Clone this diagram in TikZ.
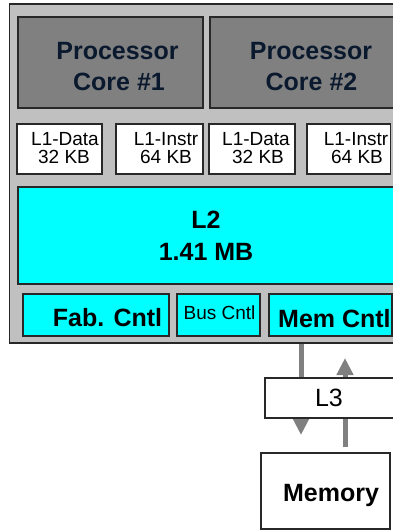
\documentclass[tikz,border=0pt]{standalone}
\usepackage{fontspec}
\setmainfont{Liberation Sans}
\usetikzlibrary{arrows.meta,fit}

\definecolor{chipgray}{RGB}{192,192,192}
\definecolor{coregray}{RGB}{128,128,128}
\definecolor{cachecyan}{RGB}{0,255,255}
\definecolor{edgedark}{RGB}{40,40,40}
\definecolor{coretext}{RGB}{10,25,45}
\definecolor{busgray}{RGB}{128,128,128}

\begin{document}
\begin{tikzpicture}[x=1pt,y=-1pt,
  blk/.style={draw=edgedark,line width=1.3pt,inner sep=0pt},
  chipbox/.style={blk,fill=chipgray},
  corebox/.style={blk,fill=coregray},
  l1box/.style={blk,fill=white},
  cyanbox/.style={blk,fill=cachecyan},
  txt/.style={inner sep=0pt,anchor=base},
  bigbold/.style={txt,font=\fontsize{25}{29}\selectfont\bfseries},
  smalltxt/.style={txt,font=\fontsize{19}{23}\selectfont},
  flow/.style={draw=busgray,line width=5pt,-{Triangle[length=17pt,width=16pt]}}
]
\useasboundingbox (0,0) rectangle (393,531);

% chip outline
\node[chipbox,fit={(9.5,4) (410,343)}] (chip) {};

% processor cores
\node[corebox,fit={(18,17) (203,108)}] (core1) {};
\node[corebox,fit={(210,17) (410,108)}] (core2) {};
\node[bigbold,text=coretext] (c1a) at (117.5,59.3) {Processor};
\node[bigbold,text=coretext] (c1b) at (119,90) {Core \#1};
\node[bigbold,text=coretext] (c2a) at (311,59.3) {Processor};
\node[bigbold,text=coretext] (c2b) at (311.5,90) {Core \#2};

% L1 caches
\node[l1box,fit={(17,124) (102,174)}] (l1d1) {};
\node[l1box,fit={(116,124) (203,174)}] (l1i1) {};
\node[l1box,fit={(209,124) (295,174)}] (l1d2) {};
\node[l1box,fit={(307,124) (390.5,174)}] (l1i2) {};
\node[smalltxt] (t1) at (65,145.5) {L1-Data};
\node[smalltxt] (t2) at (64,163.5) {32 KB};
\node[smalltxt] (t3) at (166,145.5) {L1-Instr};
\node[smalltxt] (t4) at (166,163.5) {64 KB};
\node[smalltxt] (t5) at (256,145.5) {L1-Data};
\node[smalltxt] (t6) at (258,163.5) {32 KB};
\node[smalltxt] (t7) at (356,145.5) {L1-Instr};
\node[smalltxt] (t8) at (357,163.5) {64 KB};

% L2 cache
\node[cyanbox,fit={(18,187) (410,284)}] (l2) {};
\node[bigbold] (l2a) at (206,228) {L2};
\node[bigbold] (l2b) at (206,260) {1.41 MB};

% controllers
\node[cyanbox,fit={(23,294) (169,336)}] (fab) {};
\node[cyanbox,fit={(177,294) (260,336)}] (bus) {};
\node[cyanbox,fit={(269,294) (392,336)}] (memc) {};
\node[bigbold] (fabt) at (107.5,326.7) {Fab. Cntl};
\node[smalltxt] (bust) at (219.5,319) {Bus Cntl};
\node[bigbold,anchor=base west] (memct) at (278,327) {Mem Cntl};

% memory traffic
\coordinate (dtip) at (301,435);
\coordinate (ubase) at (345,447);
\coordinate (utip) at (345,358);
\draw[flow] (301,0 |- chip.south) -- (dtip);
\draw[flow] (ubase) -- (utip);

% L3 and main memory
\node[l1box,fit={(265,378) (410,418)}] (l3) {};
\node[l1box,fit={(261,453) (390,529)}] (mem) {};
\node[txt,font=\fontsize{25}{29}\selectfont] (l3t) at (329,406.7) {L3};
\node[bigbold] (memt) at (331,501.7) {Memory};
\end{tikzpicture}
\end{document}
